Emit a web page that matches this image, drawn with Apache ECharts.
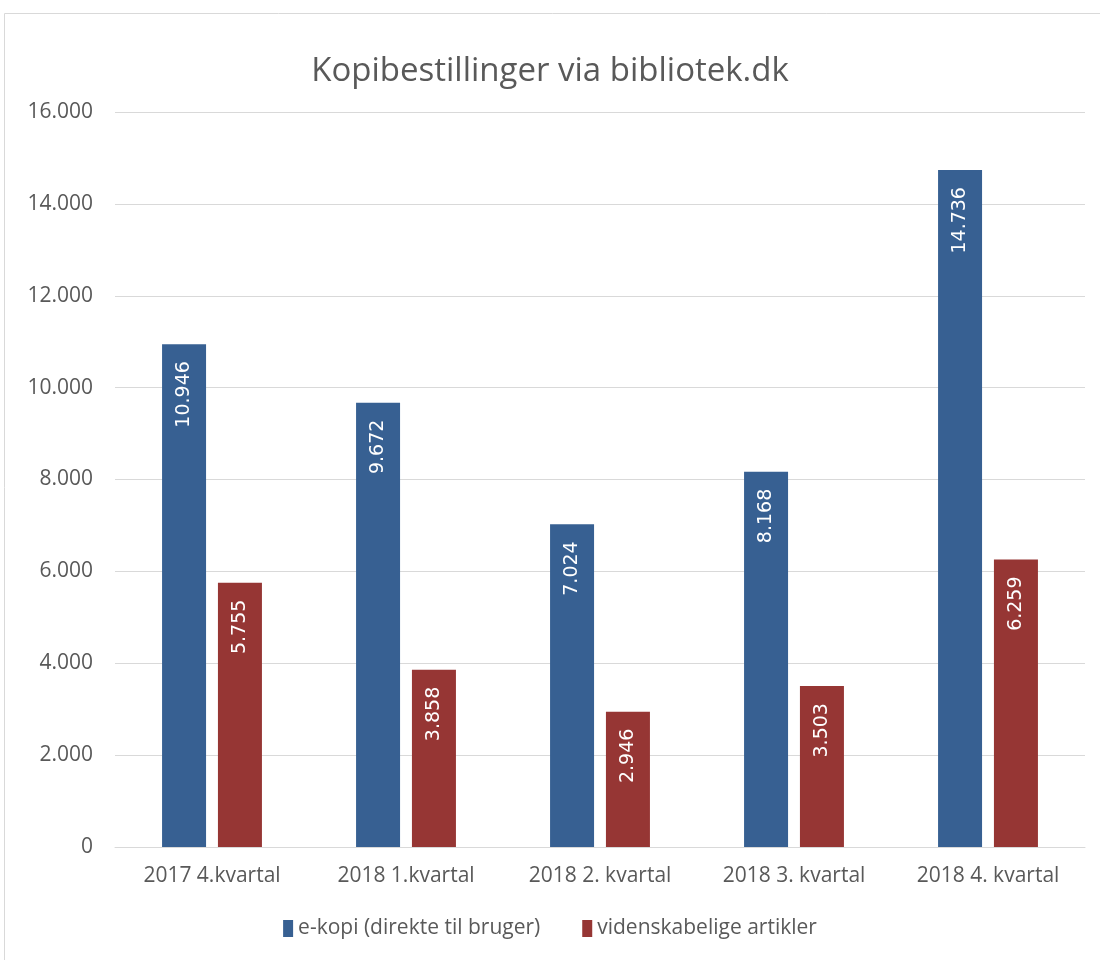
<!DOCTYPE html>
<html>
<head>
<meta charset="utf-8">
<script src="https://cdn.jsdelivr.net/npm/echarts@6/dist/echarts.min.js"></script>
<style>
  html, body { margin: 0; padding: 0; background: #fff; }
  #chart { width: 1100px; height: 960px; }
</style>
</head>
<body>
<div id="chart"></div>
<script>
const categories = ["2017 4.kvartal", "2018 1.kvartal", "2018 2. kvartal", "2018 3. kvartal", "2018 4. kvartal"];
const ekopi = [10946, 9672, 7024, 8168, 14736];
const artikler = [5755, 3858, 2946, 3503, 6259];
const seriesNames = ["e-kopi (direkte til bruger)", "videnskabelige artikler"];

const FONT = "'Open Sans', sans-serif";

function fmt(v) {
  return String(v).replace(/\B(?=(\d{3})+(?!\d))/g, ".");
}

const barLabel = {
  show: true,
  position: "insideTop",
  rotate: 90,
  align: "right",
  verticalAlign: "middle",
  distance: 17,
  color: "#fff",
  fontSize: 19,
  fontFamily: "'DejaVu Sans', sans-serif",
  formatter: (p) => fmt(p.value),
};

const chart = echarts.init(document.getElementById("chart"));
chart.setOption({
  animation: false,
  textStyle: { fontFamily: FONT },
  title: {
    text: "Kopibestillinger via bibliotek.dk",
    left: "center",
    top: 50,
    textStyle: { fontSize: 33, fontWeight: "normal", color: "#595959", fontFamily: FONT },
  },
  graphic: [
    {
      type: "rect",
      shape: { x: 4.5, y: 13.5, width: 1100, height: 960 },
      style: { fill: "none", stroke: "#d9d9d9", lineWidth: 1 },
      silent: true,
    },
  ],
  legend: {
    bottom: 16,
    left: "center",
    itemWidth: 10,
    itemHeight: 17,
    itemGap: 42,
    icon: "rect",
    textStyle: { fontSize: 21, color: "#595959", fontFamily: FONT },
    data: seriesNames,
  },
  grid: { left: 115, right: 15, top: 112, bottom: 113, containLabel: false },
  xAxis: {
    type: "category",
    data: categories,
    axisLine: { lineStyle: { color: "#d9d9d9", width: 1 } },
    axisTick: { show: false },
    axisLabel: { fontSize: 21, color: "#595959", margin: 19, fontFamily: FONT },
  },
  yAxis: {
    type: "value",
    min: 0,
    max: 16000,
    interval: 2000,
    axisLine: { show: false },
    axisTick: { show: false },
    splitLine: { lineStyle: { color: "#d9d9d9", width: 1 } },
    axisLabel: { fontSize: 21, color: "#595959", margin: 22, formatter: fmt, fontFamily: FONT },
  },
  series: [
    {
      name: seriesNames[0],
      type: "bar",
      data: ekopi,
      barWidth: 44,
      barGap: "27%",
      itemStyle: { color: "#376092" },
      label: barLabel,
    },
    {
      name: seriesNames[1],
      type: "bar",
      data: artikler,
      barWidth: 44,
      itemStyle: { color: "#963634" },
      label: barLabel,
    },
  ],
});
</script>
</body>
</html>
